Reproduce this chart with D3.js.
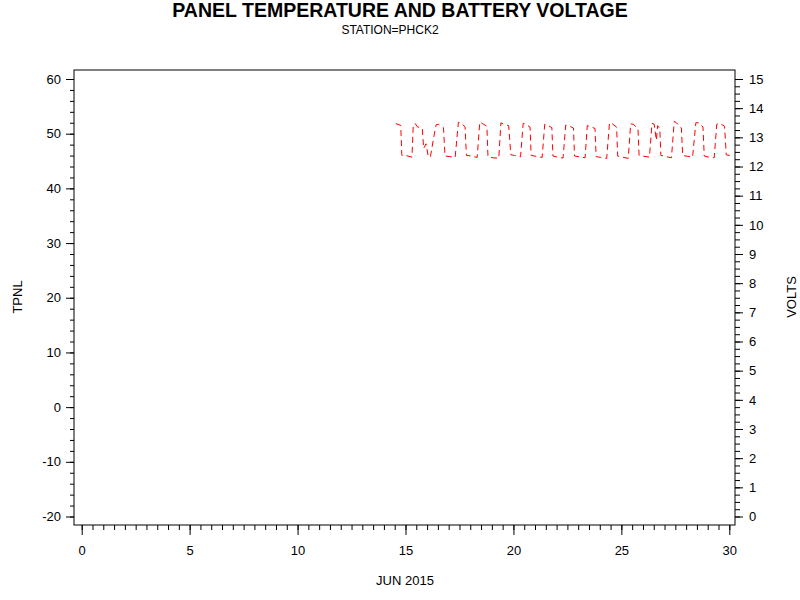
<!DOCTYPE html>
<html>
<head>
<meta charset="utf-8">
<script src="https://cdn.jsdelivr.net/npm/d3@7"></script>
<style>
  body { margin: 0; background: #fff; }
  svg { font-family: "Liberation Sans", Arial, sans-serif; }
  .tick text { font-size: 13px; fill: #000; }
  .tick line { stroke: #000; }
</style>
</head>
<body>
<div id="chart"></div>
<script>
const WIDTH = 800;
const HEIGHT = 600;

// day of June 2015 (fractional) and battery voltage
const days = [
  14.55, 14.78, 14.83, 15.05, 15.30, 15.36, 15.45, 15.55, 15.78, 15.84,
  15.95, 16.05, 16.15, 16.32, 16.42, 16.52, 16.76, 16.83, 17.05, 17.30,
  17.45, 17.55, 17.76, 17.82, 18.05, 18.32, 18.44, 18.55, 18.77, 18.82,
  19.05, 19.32, 19.42, 19.55, 19.78, 19.88, 20.05, 20.33, 20.45, 20.60,
  20.77, 20.82, 21.05, 21.33, 21.45, 21.58, 21.78, 21.83, 22.05, 22.30,
  22.42, 22.55, 22.78, 22.83, 23.05, 23.32, 23.42, 23.55, 23.78, 23.83,
  24.05, 24.32, 24.45, 24.55, 24.78, 24.83, 25.05, 25.32, 25.43, 25.55,
  25.77, 25.82, 26.05, 26.30, 26.42, 26.52, 26.62, 26.68, 26.78, 26.83,
  27.05, 27.32, 27.45, 27.55, 27.78, 27.84, 28.05, 28.30, 28.45, 28.58,
  28.78, 28.84, 29.05, 29.30, 29.42, 29.55, 29.78, 29.86, 30.02
];
const volts = [
  13.47, 13.41, 12.38, 12.37, 12.32, 13.43, 13.47, 13.36, 13.30, 12.62,
  12.78, 12.36, 12.32, 13.05, 13.43, 13.45, 13.33, 12.36, 12.34, 12.31,
  13.52, 13.50, 13.36, 12.38, 12.36, 12.31, 13.52, 13.48, 13.38, 12.34,
  12.30, 12.28, 13.50, 13.45, 13.40, 12.40, 12.38, 12.33, 13.48, 13.44,
  13.35, 12.38, 12.35, 12.31, 13.45, 13.42, 13.33, 12.36, 12.32, 12.29,
  13.42, 13.40, 13.32, 12.36, 12.33, 12.30, 13.40, 13.38, 13.30, 12.34,
  12.31, 12.28, 13.50, 13.48, 13.35, 12.36, 12.32, 12.28, 13.46, 13.45,
  13.30, 12.38, 12.35, 12.32, 13.48, 13.45, 12.90, 13.40, 13.30, 12.38,
  12.34, 12.30, 13.55, 13.50, 13.32, 12.38, 12.35, 12.32, 13.50, 13.50,
  13.36, 12.36, 12.32, 12.30, 13.45, 13.48, 13.38, 12.40, 12.38
];

const xTicks = [0, 5, 10, 15, 20, 25, 30];
const tpnlTicks = [-20, -10, 0, 10, 20, 30, 40, 50, 60];
const voltTicks = [0, 1, 2, 3, 4, 5, 6, 7, 8, 9, 10, 11, 12, 13, 14, 15];

const frame = { left: 74, right: 735, top: 70, bottom: 525 };

const svg = d3.select('#chart').append('svg')
  .attr('width', WIDTH)
  .attr('height', HEIGHT);

const x = d3.scaleLinear().domain([0, 30]).range([81.7, 729.3]);
const yLeft = d3.scaleLinear().domain([-20, 60]).range([516.5, 79]);
const yRight = d3.scaleLinear().domain([0, 15]).range([516.5, 79]);

// plain hyphen for negatives, like the original
const plain = d => String(d);

svg.append('text')
  .attr('x', 400).attr('y', 17)
  .attr('text-anchor', 'middle')
  .style('font-size', '19.5px').style('font-weight', 'bold')
  .text('PANEL TEMPERATURE AND BATTERY VOLTAGE');

svg.append('text')
  .attr('x', 390).attr('y', 34)
  .attr('text-anchor', 'middle')
  .style('font-size', '12px')
  .text('STATION=PHCK2');

svg.append('rect')
  .attr('x', frame.left).attr('y', frame.top)
  .attr('width', frame.right - frame.left)
  .attr('height', frame.bottom - frame.top)
  .attr('fill', 'none').attr('stroke', '#000');

// minor ticks first, then major with labels
const minorX = d3.range(0, 30.01, 0.5);
svg.append('g')
  .attr('transform', `translate(0, ${frame.bottom})`)
  .call(d3.axisBottom(x).tickValues(minorX).tickSize(5).tickFormat(''))
  .call(g => g.select('.domain').remove());
svg.append('g')
  .attr('transform', `translate(0, ${frame.bottom})`)
  .call(d3.axisBottom(x).tickValues(xTicks).tickSize(10).tickPadding(11).tickFormat(plain))
  .call(g => g.select('.domain').remove());

svg.append('g')
  .attr('transform', `translate(${frame.left}, 0)`)
  .call(d3.axisLeft(yLeft).tickValues(d3.range(-20, 60.01, 2)).tickSize(4).tickFormat(''))
  .call(g => g.select('.domain').remove());
svg.append('g')
  .attr('transform', `translate(${frame.left}, 0)`)
  .call(d3.axisLeft(yLeft).tickValues(tpnlTicks).tickSize(8).tickPadding(5).tickFormat(plain))
  .call(g => g.select('.domain').remove());

svg.append('g')
  .attr('transform', `translate(${frame.right}, 0)`)
  .call(d3.axisRight(yRight).tickValues(d3.range(0, 15.01, 0.25)).tickSize(5).tickFormat(''))
  .call(g => g.select('.domain').remove());
svg.append('g')
  .attr('transform', `translate(${frame.right}, 0)`)
  .call(d3.axisRight(yRight).tickValues(voltTicks).tickSize(8).tickPadding(6).tickFormat(plain))
  .call(g => g.select('.domain').remove());

svg.append('text')
  .attr('transform', 'translate(22, 297) rotate(-90)')
  .attr('text-anchor', 'middle')
  .style('font-size', '13px')
  .text('TPNL');

svg.append('text')
  .attr('transform', 'translate(796, 297) rotate(-90)')
  .attr('text-anchor', 'middle')
  .style('font-size', '13px')
  .text('VOLTS');

svg.append('text')
  .attr('x', 405).attr('y', 585)
  .attr('text-anchor', 'middle')
  .style('font-size', '13px')
  .text('JUN 2015');

const line = d3.line()
  .x((d, i) => x(days[i]))
  .y(d => yRight(d));

svg.append('path')
  .datum(volts)
  .attr('d', line)
  .attr('fill', 'none')
  .attr('stroke', '#ff0000')
  .attr('stroke-width', 1)
  .attr('stroke-dasharray', '6,4');
</script>
</body>
</html>
